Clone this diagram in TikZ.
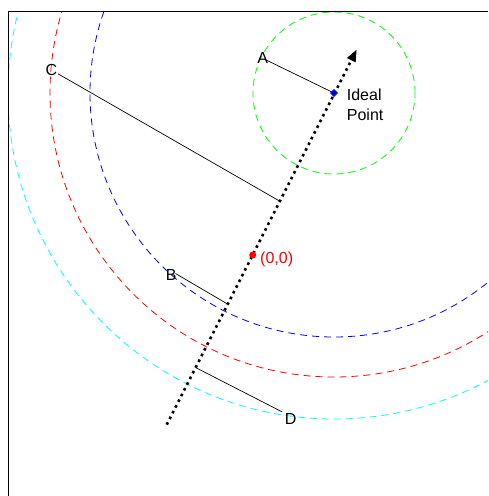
\documentclass[tikz,border=0pt]{standalone}
\usepackage{fontspec}
\setmainfont{Liberation Sans}
\usetikzlibrary{arrows.meta}
\definecolor{ringcyan}{RGB}{0,255,255}
\definecolor{ringgreen}{RGB}{0,255,0}
\definecolor{ringblue}{RGB}{0,0,255}
\definecolor{ringred}{RGB}{255,0,0}
\begin{document}
\begin{tikzpicture}[x=1pt,y=-1pt,
  ring/.style={dash pattern=on 7pt off 5pt, line width=0.8pt},
  lbl/.style={font=\fontsize{16}{19}\selectfont, inner sep=0pt},
  link/.style={line width=0.7pt, black},
  axisline/.style={line width=2.6pt, dash pattern=on 2.6pt off 3.8pt, -{Triangle[length=12pt,width=9pt]}}
]
\useasboundingbox (0,0) rectangle (488,496);
\coordinate (I) at (334,93);
\begin{scope}
  \clip (8,11) rectangle (488,496);
  \draw[ring,ringgreen] (I) circle[radius=81pt];
  \draw[ring,ringblue] (I) circle[radius=244pt];
  \draw[ring,ringred] (I) circle[radius=284pt];
  \draw[ring,ringcyan] (I) circle[radius=326pt];
\end{scope}
\draw[line width=1pt] (8,496) -- (8,11) -- (488,11);

% points and feet
\coordinate (As) at (264.7,59.3);
\coordinate (Cs) at (58,73.8);
\coordinate (Cf) at (279.5,201);
\coordinate (Bs) at (175.5,273.5);
\coordinate (Bf) at (227.5,304);
\coordinate (Ds) at (282,411.8);
\coordinate (Df) at (195.5,367.5);
\coordinate (S) at (166.7,424.7);
\coordinate (T) at (356.7,49.5);
\coordinate (O) at (252.7,255);

\draw[link] (As) -- (I);
\draw[link] (Cs) -- (Cf);
\draw[link] (Bs) -- (Bf);
\draw[link] (Ds) -- (Df);

\draw[axisline] (S) -- (T);

\fill[ringred] (O) circle[radius=3.5pt];
\node[draw=ringblue, fill=ringblue, rotate=45, minimum size=5pt, inner sep=0pt] (Im) at (I) {};
\fill[black] (I) circle[radius=1.3pt];

\node[lbl] (A) at (262.7,57.5) {A};
\node[lbl] (C) at (51.3,70) {C};
\node[lbl] (B) at (171.3,275) {B};
\node[lbl] (D) at (290.7,418.7) {D};
\node[lbl, text=ringred, anchor=west] (Olbl) at (260,259.2) {(0,0)};
\node[lbl, anchor=base west] (ideal1) at (346.7,100.7) {Ideal};
\node[lbl, anchor=base west] (ideal2) at (346.7,120) {Point};
\end{tikzpicture}
\end{document}
